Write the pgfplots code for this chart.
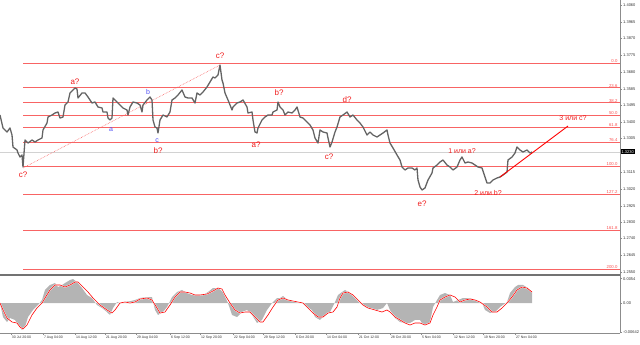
\documentclass[border=0pt]{standalone}
\usepackage{fontspec}
\setmainfont{Liberation Sans}
\usepackage{pgfplots}
\pgfplotsset{compat=1.18}
\definecolor{fibred}{RGB}{248,100,100}
\definecolor{pricegray}{RGB}{100,100,100}
\definecolor{oscgray}{RGB}{180,180,180}
\definecolor{wavered}{RGB}{240,30,30}
\definecolor{waveblue}{RGB}{80,80,245}
\definecolor{axgray}{RGB}{140,140,140}
\definecolor{sepgray}{RGB}{115,115,115}
\definecolor{lblgray}{RGB}{50,50,50}
\newcommand{\wl}[1]{\fontsize{#1}{#1}\selectfont}
\begin{document}
\begin{tikzpicture}[x=1pt,y=1pt]
\begin{axis}[name=main, at={(0,0)}, anchor=north west,
  width=620pt, height=275pt, scale only axis,
  xmin=0, xmax=620, ymin=1.25332, ymax=1.40883,
  axis line style={draw=none}, xtick=\empty,
  ytick={1.2550,1.2645,1.2740,1.2830,1.2925,1.3020,1.3115,1.3305,1.3400,1.3495,1.3585,1.3680,1.3775,1.3870,1.3965,1.4060},
  ytick pos=right, yticklabel pos=right, scaled y ticks=false,
  tick align=outside, major tick length=2pt,
  tick style={axgray, line width=0.4pt},
  yticklabel style={font=\wl{4}, text=lblgray, anchor=west, inner sep=1pt,
    /pgf/number format/.cd, fixed, fixed zerofill, precision=4, assume math mode=true},
  clip=false]
\draw[axgray, line width=0.6pt] (rel axis cs:1,0) -- (rel axis cs:1,1);
% current price line
\addplot[gray!35, line width=0.5pt] coordinates {(0,1.3230) (620,1.3230)};
% fibonacci levels
\addplot[fibred, line width=0.8pt] coordinates {(23,1.37292) (620,1.37292)};
\addplot[fibred, line width=0.8pt] coordinates {(23,1.35918) (620,1.35918)};
\addplot[fibred, line width=0.8pt] coordinates {(23,1.35070) (620,1.35070)};
\addplot[fibred, line width=0.8pt] coordinates {(23,1.34380) (620,1.34380)};
\addplot[fibred, line width=0.8pt] coordinates {(23,1.33690) (620,1.33690)};
\addplot[fibred, line width=0.8pt] coordinates {(23,1.32842) (620,1.32842)};
\addplot[fibred, line width=0.8pt] coordinates {(23,1.31467) (620,1.31467)};
\addplot[fibred, line width=0.8pt] coordinates {(23,1.29884) (620,1.29884)};
\addplot[fibred, line width=0.8pt] coordinates {(23,1.27865) (620,1.27865)};
\addplot[fibred, line width=0.8pt] coordinates {(23,1.25643) (620,1.25643)};
\begin{scope}[every node/.style={anchor=south east, font=\wl{4.3}, text=fibred!80!red, inner sep=0.4pt}]
\node at (axis cs:618,1.37292) {0.0};
\node at (axis cs:618,1.35918) {23.6};
\node at (axis cs:618,1.35070) {38.2};
\node at (axis cs:618,1.34380) {50.0};
\node at (axis cs:618,1.33690) {61.8};
\node at (axis cs:618,1.32842) {76.4};
\node at (axis cs:618,1.31467) {100.0};
\node at (axis cs:618,1.29884) {127.2};
\node at (axis cs:618,1.27865) {161.8};
\node at (axis cs:618,1.25643) {200.0};
\end{scope}
% dotted trend line
\addplot[fibred, densely dotted, line width=0.6pt] coordinates {(23,1.31383) (220,1.37207)};
% price
\addplot[pricegray, line width=1.3pt, line join=round] coordinates {
(0,1.34380)(3,1.33645)(7,1.33418)(10,1.33645)(12,1.33249)(13,1.32570)(17,1.32401)(18,1.32231)(20,1.32005)(22,1.32118)(23,1.31439)(25,1.32966)(28,1.32796)(32,1.32966)(35,1.32853)(38,1.32966)(42,1.33079)(43,1.33532)(47,1.33927)(48,1.34267)(52,1.34380)(55,1.34493)(58,1.34549)(60,1.34210)(63,1.34267)(65,1.34945)(68,1.35115)(70,1.35624)(73,1.35794)(75,1.35907)(77,1.35850)(78,1.35341)(82,1.35624)(85,1.35624)(88,1.35398)(92,1.35058)(95,1.35115)(98,1.34832)(102,1.34776)(103,1.34549)(107,1.34549)(108,1.34210)(110,1.34097)(112,1.34210)(113,1.35341)(117,1.35115)(120,1.34945)(123,1.34776)(127,1.34663)(128,1.34380)(130,1.34832)(133,1.35115)(137,1.35058)(140,1.34945)(142,1.34549)(143,1.34945)(147,1.35228)(150,1.35398)(152,1.35228)(153,1.34097)(155,1.33701)(157,1.33645)(158,1.33362)(160,1.34097)(163,1.34380)(167,1.34267)(170,1.34549)(172,1.35228)(175,1.35341)(178,1.35511)(182,1.35794)(185,1.35398)(188,1.35341)(192,1.35341)(195,1.35058)(197,1.35624)(200,1.35511)(203,1.35680)(207,1.35963)(210,1.36246)(213,1.36529)(215,1.36472)(218,1.36642)(220,1.37207)(222,1.36359)(223,1.36189)(225,1.35624)(228,1.35228)(232,1.34663)(233,1.34832)(237,1.35058)(240,1.35115)(243,1.35228)(247,1.34832)(248,1.34493)(252,1.34549)(253,1.34097)(255,1.33418)(257,1.33362)(258,1.33645)(262,1.34097)(265,1.34267)(268,1.34380)(272,1.34380)(273,1.34549)(277,1.34663)(278,1.35115)(280,1.34832)(283,1.34663)(285,1.34380)(288,1.34549)(292,1.34493)(295,1.34663)(297,1.34832)(300,1.34267)(303,1.34210)(307,1.33984)(310,1.33814)(313,1.33532)(315,1.33079)(318,1.32796)(320,1.33532)(323,1.33418)(327,1.33362)(328,1.33079)(330,1.32570)(332,1.32853)(335,1.33418)(337,1.33701)(340,1.34267)(343,1.34380)(347,1.34549)(350,1.34267)(353,1.34380)(357,1.34097)(360,1.33927)(363,1.33701)(367,1.33249)(370,1.33418)(373,1.33249)(377,1.33136)(380,1.33249)(383,1.33362)(387,1.33532)(388,1.33249)(390,1.32796)(393,1.32514)(397,1.32118)(400,1.31835)(402,1.31439)(405,1.31270)(408,1.31383)(412,1.31383)(415,1.31270)(417,1.31383)(418,1.30704)(420,1.30308)(422,1.30139)(425,1.30252)(428,1.30704)(432,1.31100)(433,1.31383)(437,1.31552)(440,1.31722)(443,1.31835)(447,1.31552)(450,1.31439)(453,1.31270)(457,1.31439)(460,1.31835)(462,1.32005)(465,1.31665)(468,1.31722)(472,1.31665)(475,1.31552)(478,1.31439)(482,1.31383)(485,1.30874)(487,1.30534)(490,1.30534)(493,1.30704)(497,1.30817)(500,1.30874)(503,1.30987)(507,1.31156)(508,1.31835)(512,1.32005)(515,1.32231)(517,1.32570)(520,1.32401)(523,1.32287)(527,1.32401)(530,1.32231)(532,1.32287)};
% projected wave line
\addplot[red, line width=0.9pt] coordinates {(500,1.30874) (568,1.33758)};
% wave labels
\begin{scope}[every node/.style={font=\wl{8}, text=wavered, inner sep=0pt}]
\node at (axis cs:23,1.30987) {c?};
\node at (axis cs:75,1.36246) {a?};
\node at (axis cs:158,1.32344) {b?};
\node at (axis cs:220,1.37716) {c?};
\node at (axis cs:256,1.32683) {a?};
\node at (axis cs:279,1.35624) {b?};
\node at (axis cs:329,1.32005) {c?};
\node at (axis cs:347,1.35228) {d?};
\node at (axis cs:422,1.29347) {e?};
\node[font=\wl{7}] at (axis cs:462,1.32344) {1 или а?};
\node[font=\wl{7}] at (axis cs:488,1.29969) {2 или b?};
\node[font=\wl{7}] at (axis cs:573,1.34210) {3 или с?};
\end{scope}
\begin{scope}[every node/.style={font=\wl{7}, text=waveblue, inner sep=0pt}]
\node at (axis cs:111,1.33532) {a};
\node at (axis cs:148,1.35680) {b};
\node at (axis cs:157,1.32910) {c};
\end{scope}
\node[fill=black, text=white, font=\wl{4}, inner sep=0.9pt, anchor=west] at (axis cs:620.5,1.3230) {1.3230};
\draw[sepgray, line width=1.8pt] (rel axis cs:0,0) -- (rel axis cs:1,0);
\end{axis}
\begin{axis}[name=osc, at={(main.south west)}, anchor=north west,
  width=620pt, height=58pt, scale only axis,
  xmin=0, xmax=620, ymin=-0.00666, ymax=0.00622,
  axis line style={draw=none},
  ytick={-0.00642,0,0.0054}, yticklabels={-0.00642,0.00,0.0054},
  ytick pos=right, yticklabel pos=right, scaled y ticks=false,
  xtick={11,43,75,105,136,170,200,233,263,295,326,358,390,421,453,483,515},
  xticklabels={30 Jul 20:00,7 Aug 04:00,14 Aug 12:00,21 Aug 20:00,29 Aug 04:00,6 Sep 12:00,12 Sep 20:00,22 Sep 04:00,29 Sep 12:00,6 Oct 20:00,14 Oct 04:00,21 Oct 12:00,28 Oct 20:00,5 Nov 04:00,12 Nov 12:00,19 Nov 20:00,27 Nov 04:00},
  xtick pos=bottom, scaled x ticks=false,
  tick align=outside, major tick length=2pt,
  tick style={axgray, line width=0.4pt},
  xticklabel style={font=\wl{3.5}, text=lblgray, anchor=north west, inner sep=0.8pt},
  yticklabel style={font=\wl{4}, text=lblgray, anchor=west, inner sep=1pt},
  clip=false]
\draw[axgray, line width=0.6pt] (rel axis cs:1,0) -- (rel axis cs:1,1);
\draw[axgray, line width=0.6pt] (rel axis cs:0,0) -- (rel axis cs:1,0);
\addplot[fill=oscgray, draw=none] coordinates {
(0,0)(3,-0.00311)(7,-0.00422)(10,-0.00333)(15,-0.00377)(18,-0.00488)(22,-0.00599)(25,-0.00533)(28,-0.00311)(33,-0.00155)(38,-0.00044)(42,0.00067)(45,0.00289)(50,0.00400)(55,0.00444)(58,0.00355)(62,0.00400)(65,0.00444)(70,0.00511)(73,0.00533)(77,0.00466)(82,0.00333)(87,0.00178)(92,0.00111)(97,-0.00044)(102,-0.00111)(107,-0.00200)(110,-0.00266)(113,-0.00111)(117,0.00022)(120,0)(125,0.0003)(130,0.0004)(135,0.00067)(140,0.00111)(147,0.00133)(152,0.00133)(155,-0.00155)(158,-0.00266)(163,-0.00200)(167,-0.00089)(172,0.00133)(177,0.00244)(182,0.00289)(187,0.00222)(192,0.00178)(197,0.00178)(203,0.00178)(208,0.00244)(213,0.00333)(218,0.00333)(223,0.00244)(228,0)(232,-0.00266)(237,-0.00311)(242,-0.00200)(247,-0.00155)(252,-0.00266)(257,-0.00444)(262,-0.00377)(267,-0.00155)(272,0)(277,0.00111)(280,0.00111)(283,0.00155)(288,0.00067)(295,0.00022)(302,0)(307,-0.00089)(312,-0.00155)(315,-0.00311)(320,-0.00377)(325,-0.00266)(330,-0.00200)(335,0.00022)(338,0.00178)(342,0.00244)(345,0.00289)(350,0.00222)(355,0.00111)(360,0)(365,-0.00089)(370,-0.00111)(377,-0.00155)(383,-0.00111)(387,0)(390,-0.00155)(395,-0.00333)(400,-0.00422)(405,-0.00444)(410,-0.00444)(415,-0.00377)(420,-0.00377)(423,-0.00488)(427,-0.00488)(430,-0.00422)(433,-0.00089)(437,0.00067)(440,0.00178)(445,0.00222)(450,0.00178)(453,0.00022)(458,0.00067)(463,0.00111)(470,0.00111)(475,0.00067)(482,0)(485,-0.00155)(490,-0.00222)(495,-0.00200)(500,-0.00089)(507,0.00022)(510,0.00222)(515,0.00355)(518,0.00400)(523,0.00400)(528,0.00333)(532,0.00244)} \closedcycle;
\addplot[white, line width=1.3pt] coordinates {
(0,0)(3,-0.00155)(7,-0.00333)(12,-0.00422)(17,-0.00444)(20,-0.00533)(23,-0.00577)(27,-0.00488)(32,-0.00266)(37,-0.00111)(42,0)(45,0.00111)(50,0.00289)(55,0.00400)(60,0.00400)(65,0.00355)(70,0.00400)(75,0.00466)(78,0.00466)(83,0.00355)(88,0.00244)(93,0.00111)(100,-0.00044)(107,-0.00155)(112,-0.00222)(115,-0.00155)(120,0)(125,0.00022)(130,0)(135,0.00022)(140,0.00089)(147,0.00111)(152,0.00067)(157,-0.00111)(160,-0.00222)(165,-0.00200)(170,-0.00044)(175,0.00133)(180,0.00244)(185,0.00244)(190,0.00222)(195,0.00178)(200,0.00178)(207,0.00200)(213,0.00266)(218,0.00333)(222,0.00311)(225,0.00178)(230,0)(235,-0.00155)(240,-0.00222)(245,-0.00200)(250,-0.00200)(255,-0.00311)(260,-0.00422)(263,-0.00422)(268,-0.00266)(273,-0.00089)(278,0.00067)(283,0.00111)(288,0.00067)(293,0.00044)(298,0.00022)(303,0)(308,-0.00111)(313,-0.00222)(318,-0.00311)(323,-0.00311)(328,-0.00222)(333,-0.00200)(337,-0.00089)(340,0.00111)(343,0.00222)(348,0.00244)(353,0.00178)(358,0.00067)(363,-0.00044)(368,-0.00111)(375,-0.00155)(382,-0.00200)(387,-0.00155)(390,-0.00200)(395,-0.00311)(400,-0.00377)(405,-0.00444)(410,-0.00488)(415,-0.00444)(420,-0.00444)(425,-0.00488)(430,-0.00444)(433,-0.00266)(437,-0.00089)(440,0.00067)(445,0.00133)(450,0.00178)(455,0.00133)(460,0.00022)(465,0.00067)(470,0.00089)(475,0.00067)(480,0.00022)(487,-0.00089)(492,-0.00200)(497,-0.00200)(502,-0.00111)(507,0)(512,0.00133)(517,0.00289)(522,0.00355)(527,0.00333)(532,0.00244)};
\addplot[red, line width=0.6pt] coordinates {
(0,0)(3,-0.00155)(7,-0.00333)(12,-0.00422)(17,-0.00444)(20,-0.00533)(23,-0.00577)(27,-0.00488)(32,-0.00266)(37,-0.00111)(42,0)(45,0.00111)(50,0.00289)(55,0.00400)(60,0.00400)(65,0.00355)(70,0.00400)(75,0.00466)(78,0.00466)(83,0.00355)(88,0.00244)(93,0.00111)(100,-0.00044)(107,-0.00155)(112,-0.00222)(115,-0.00155)(120,0)(125,0.00022)(130,0)(135,0.00022)(140,0.00089)(147,0.00111)(152,0.00067)(157,-0.00111)(160,-0.00222)(165,-0.00200)(170,-0.00044)(175,0.00133)(180,0.00244)(185,0.00244)(190,0.00222)(195,0.00178)(200,0.00178)(207,0.00200)(213,0.00266)(218,0.00333)(222,0.00311)(225,0.00178)(230,0)(235,-0.00155)(240,-0.00222)(245,-0.00200)(250,-0.00200)(255,-0.00311)(260,-0.00422)(263,-0.00422)(268,-0.00266)(273,-0.00089)(278,0.00067)(283,0.00111)(288,0.00067)(293,0.00044)(298,0.00022)(303,0)(308,-0.00111)(313,-0.00222)(318,-0.00311)(323,-0.00311)(328,-0.00222)(333,-0.00200)(337,-0.00089)(340,0.00111)(343,0.00222)(348,0.00244)(353,0.00178)(358,0.00067)(363,-0.00044)(368,-0.00111)(375,-0.00155)(382,-0.00200)(387,-0.00155)(390,-0.00200)(395,-0.00311)(400,-0.00377)(405,-0.00444)(410,-0.00488)(415,-0.00444)(420,-0.00444)(425,-0.00488)(430,-0.00444)(433,-0.00266)(437,-0.00089)(440,0.00067)(445,0.00133)(450,0.00178)(455,0.00133)(460,0.00022)(465,0.00067)(470,0.00089)(475,0.00067)(480,0.00022)(487,-0.00089)(492,-0.00200)(497,-0.00200)(502,-0.00111)(507,0)(512,0.00133)(517,0.00289)(522,0.00355)(527,0.00333)(532,0.00244)};
\end{axis}
\pgfresetboundingbox
\path[use as bounding box] (main.north west) rectangle ++(640pt,-345pt);
\end{tikzpicture}
\end{document}
